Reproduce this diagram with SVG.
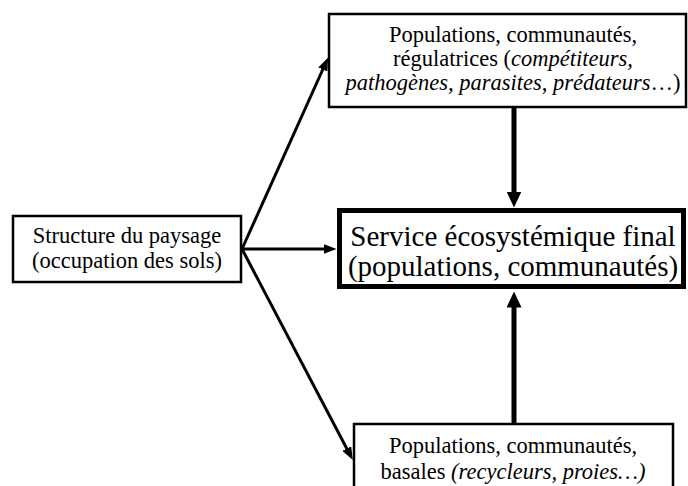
<svg xmlns="http://www.w3.org/2000/svg" width="688" height="486" viewBox="0 0 688 486">
<style>
text{font-family:"Liberation Serif","Times New Roman",serif;fill:#000;text-anchor:middle}
.s{font-size:22.5px}
.b{font-size:29px}
.i{font-style:italic}
.box{fill:#fff;stroke:#000}
.thin{stroke-width:2.5}
.thick{stroke-width:5}
.c{stroke:#000;fill:none}
.c1{stroke-width:3}
.c2{stroke-width:5}
</style>
<defs>
<marker id="ah" markerUnits="userSpaceOnUse" markerWidth="13" markerHeight="10" refX="0.5" refY="5" orient="auto">
<path d="M0,0 L13,5 L0,10 z" fill="#000"/>
</marker>
<marker id="ahb" markerUnits="userSpaceOnUse" markerWidth="16" markerHeight="15" refX="0.5" refY="7.5" orient="auto">
<path d="M0,0 L16,7.5 L0,15 z" fill="#000"/>
</marker>
</defs>
<rect width="688" height="486" fill="#fff"/>
<g id="connectors">
<line class="c c1" x1="242" y1="249" x2="323" y2="69" marker-end="url(#ah)"/>
<line class="c c1" x1="242" y1="249" x2="324" y2="249" marker-end="url(#ah)"/>
<line class="c c1" x1="242" y1="249" x2="347" y2="449" marker-end="url(#ah)"/>
<line class="c c2" x1="514" y1="108" x2="514" y2="192" marker-end="url(#ahb)"/>
<line class="c c2" x1="514" y1="423" x2="514" y2="307" marker-end="url(#ahb)"/>
</g>
<g id="paysage">
<rect class="box thin" x="13" y="216" width="228" height="66"/>
<text class="s" x="127" y="243">Structure du paysage</text>
<text class="s" x="127" y="268">(occupation des sols)</text>
</g>
<g id="regulatrices">
<rect class="box thin" x="329" y="14" width="357" height="93"/>
<text class="s" x="513" y="42">Populations, communautés,</text>
<text class="s" x="513" y="66">régulatrices (<tspan class="i">compétiteurs,</tspan></text>
<text class="s" x="513" y="90"><tspan class="i">pathogènes, parasites, prédateurs</tspan>…)</text>
</g>
<g id="service">
<rect class="box thick" x="339.5" y="210.5" width="344" height="76"/>
<text class="b" x="513" y="246">Service écosystémique final</text>
<text class="b" x="513" y="276">(populations, communautés)</text>
</g>
<g id="basales">
<rect class="box thin" x="354" y="424" width="319" height="70"/>
<text class="s" x="513" y="453">Populations, communautés,</text>
<text class="s" x="513" y="479">basales <tspan class="i">(recycleurs, proies…)</tspan></text>
</g>
</svg>
